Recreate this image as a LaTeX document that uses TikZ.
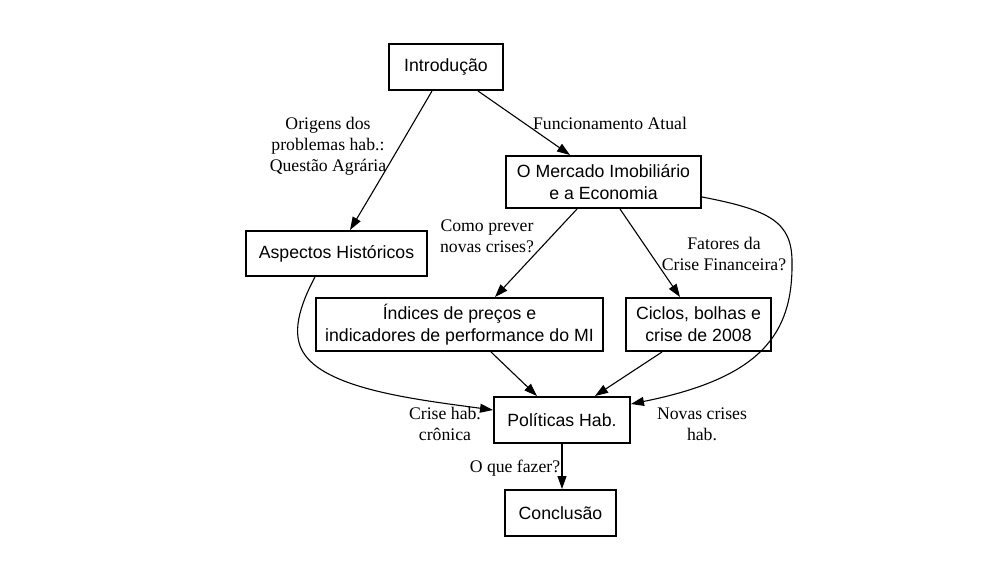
\documentclass[tikz,border=0pt]{standalone}
\usepackage{fontspec}
\setmainfont{Liberation Serif}
\newfontfamily\arialfont{Liberation Sans}
\usetikzlibrary{arrows.meta}
\tikzset{
  box/.style={draw, line width=2pt, fill=white, inner sep=0pt, align=center,
    font=\arialfont\fontsize{17.7}{22}\selectfont},
  lab/.style={inner sep=0pt, align=center, font=\fontsize{17.7}{21}\selectfont},
  edge/.style={line width=1.1pt, -{Triangle[length=13pt,width=9pt]}, shorten >=0pt}
}
\begin{document}
\begin{tikzpicture}[x=1pt,y=-1pt]
\useasboundingbox (0,0) rectangle (1000,580);
\fill[white] (0,0) rectangle (1000,580);

\node[box, minimum width=114pt, minimum height=46pt] (intro) at (446,67) {Introdução};
\node[box, minimum width=195pt, minimum height=52pt] (merc) at (603.5,182) {O Mercado Imobiliário\\e a Economia};
\node[box, minimum width=181pt, minimum height=45pt] (asp) at (336.5,253.5) {Aspectos Históricos};
\node[box, minimum width=287pt, minimum height=53pt] (ind) at (459.5,324.5) {Índices de preços e\\indicadores de performance do MI};
\node[box, minimum width=145pt, minimum height=53pt] (cic) at (698.5,324.5) {Ciclos, bolhas e\\crise de 2008};
\node[box, minimum width=136pt, minimum height=46pt] (pol) at (562,420) {Políticas Hab.};
\node[box, minimum width=111pt, minimum height=46pt] (conc) at (560.5,513) {Conclusão};

\draw[edge] ([xshift=-14pt]intro.south) .. controls (415,120) and (380,180) .. ([xshift=13.5pt]asp.north);
\draw[edge] ([xshift=32pt]intro.south) -- ([xshift=-33.5pt]merc.north);
\draw[edge] ([xshift=-26.5pt]merc.south) -- ([xshift=35.5pt]ind.north);
\draw[edge] ([xshift=16.5pt]merc.south) -- ([xshift=-18.5pt]cic.north);
\draw[edge] ([yshift=-15pt]merc.east) .. controls (770,210) and (792,222) .. (792,262)
  .. controls (793,335) and (760,378) .. ([yshift=16pt]pol.east);
\draw[edge] ([xshift=-21.5pt]asp.south) .. controls (300,305) and (290,335) .. (305,355)
  .. controls (330,390) and (420,400) .. ([yshift=10pt]pol.west);
\draw[edge] ([xshift=31.5pt]ind.south) -- ([xshift=-25pt]pol.north);
\draw[edge] ([xshift=-36.5pt]cic.south) -- ([xshift=33pt]pol.north);
\draw[edge] (pol.south) -- (pol.south |- conc.north);

\node[lab] (l1) at (328,146) {Origens dos\\problemas hab.:\\Questão Agrária};
\node[lab] (l2) at (610,123) {Funcionamento Atual};
\node[lab] (l3) at (487,236) {Como prever\\novas crises?};
\node[lab] (l4) at (724,254) {Fatores da\\Crise Financeira?};
\node[lab] (l5) at (445,424) {Crise hab.\\crônica};
\node[lab] (l6) at (702,424) {Novas crises\\hab.};
\node[lab] (l7) at (515,468) {O que fazer?};
\end{tikzpicture}
\end{document}
